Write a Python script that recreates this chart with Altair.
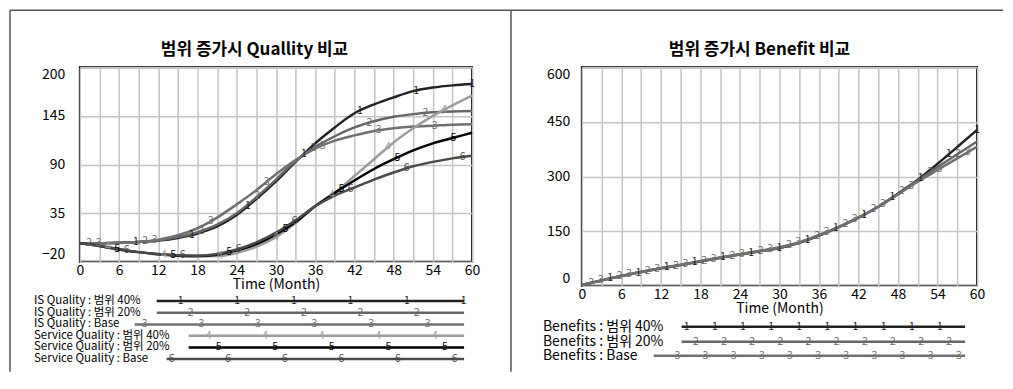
import altair as alt
import numpy as np
import pandas as pd

FONT = "Noto Sans CJK KR"

months = list(range(0, 61, 3))

# Quality chart (every 3 months)
is_q_40 = [1, 1, 1.5, 2.5, 4, 7, 12, 20, 33, 51, 71, 93, 114, 132, 148, 158, 166, 173, 177, 179.5, 181]
is_q_20 = [1, 1, 1.5, 2.5, 4.5, 8, 13.5, 22, 35, 53, 73, 94, 110, 122, 132, 139, 144, 147, 149, 150, 150.5]
is_q_base = [1, 1, 1.5, 2.5, 5, 10, 18, 30, 45, 61, 79, 95, 108, 117, 123, 128, 131, 133, 134, 135, 135.5]
sv_q_40 = [1, -2, -6, -9, -11.5, -13, -14, -13.5, -10, -3, 8, 24, 43, 58, 77, 96, 115, 131, 145, 157, 168]
sv_q_20 = [1, -2, -6, -9, -11.5, -13, -13.5, -12, -7, 0, 11, 25, 43, 58, 72, 85, 96, 106, 114, 120, 126]
sv_q_base = [1, -2, -5.5, -9, -11, -12.5, -13, -11, -6, 2, 13, 27, 43, 55, 64, 73, 81, 88, 93, 97, 100]

# Benefit chart
ben_40 = [2, 15, 27, 38, 48, 57, 67, 77, 86, 95, 104, 118, 138, 161, 187, 217, 253, 291, 335, 381, 428]
ben_20 = [2, 15, 27, 38, 48, 57, 67, 77, 86, 95, 104, 118, 138, 161, 187, 217, 252, 289, 326, 361, 396]
ben_base = [2, 15.5, 27.5, 38.5, 48.5, 58, 68, 78, 87, 96, 106, 120, 140, 162, 188, 217, 251, 286, 318, 350, 382]

q_names = ["IS Quality : 범위 40%", "IS Quality : 범위 20%", "IS Quality : Base",
           "Service Quality : 범위 40%", "Service Quality : 범위 20%", "Service Quality : Base"]
q_series = [is_q_40, is_q_20, is_q_base, sv_q_40, sv_q_20, sv_q_base]
b_names = ["Benefits : 범위 40%", "Benefits : 범위 20%", "Benefits : Base"]
b_series = [ben_40, ben_20, ben_base]

q_yticks = [-20, 35, 90, 145, 200]
b_yticks = [0, 150, 300, 450, 600]

# styles
q_colors = ["#222222", "#666666", "#707070", "#9c9c9c", "#000000", "#4a4a4a"]
q_widths = [2.5, 2.5, 1, 2.5, 2.5, 1]
b_colors = ["#1a1a1a", "#666666", "#8a8a8a"]
b_widths = [2.5, 2.5, 1.2]


def build_panel(names, series, colors, widths, title, W, H, ydom, yticks, ylabpad,
                title_x, marker_step, leg_text_x, leg_rows_y, leg_starts, leg_end,
                leg_mark_first, leg_mark_step, leg_font, borders):
    rows = []
    for nm, vals in zip(names, series):
        for m, v in zip(months, vals):
            rows.append({"month": m, "value": v, "series": nm})
    df = pd.DataFrame(rows)

    # number markers along the curves (label placement)
    mk = []
    for i, (nm, vals) in enumerate(zip(names, series)):
        t = i * 60 / 42
        while t <= 60.01:
            if t > 0.5:
                mk.append({"month": t, "value": float(np.interp(t, months, vals)),
                           "series": nm, "label": str(i + 1)})
            t += marker_step
    dfm = pd.DataFrame(mk)

    cscale = alt.Scale(domain=names, range=colors)
    wscale = alt.Scale(domain=names, range=widths)
    color = alt.Color("series:N", scale=cscale, legend=None)
    swidth = alt.StrokeWidth("series:N", scale=wscale, legend=None)

    xenc = alt.X("month:Q", scale=alt.Scale(domain=[0, 60], nice=False, zero=False),
                 axis=alt.Axis(values=list(range(0, 61, 3)),
                               labelExpr="datum.value % 6 == 0 ? datum.label : ''",
                               title="Time (Month)", labelPadding=2, titlePadding=0,
                               grid=True, labelFlush=False))
    yenc = alt.Y("value:Q", scale=alt.Scale(domain=ydom, nice=False, zero=False),
                 axis=alt.Axis(values=yticks, title=None, labelFlush=True,
                               labelPadding=ylabpad, grid=True))

    lines = alt.Chart(df).mark_line(interpolate="monotone").encode(
        x=xenc, y=yenc, color=color, strokeWidth=swidth)
    marks = alt.Chart(dfm).mark_text(font=FONT, fontSize=10.5, baseline="middle").encode(
        x=xenc, y=yenc, text="label:N", color=color)
    main = alt.layer(lines, marks)

    # legend below the plot
    lt, lr, lm = [], [], []
    for i, nm in enumerate(names):
        y = leg_rows_y[i]
        lt.append({"series": nm, "px": leg_text_x, "py": y})
        lr.append({"series": nm, "px": leg_starts[i], "px2": leg_end, "py": y})
        p = leg_mark_first[i]
        while p <= leg_end + 0.5:
            if p >= leg_starts[i] + 2:
                lm.append({"series": nm, "px": p, "py": y, "label": str(i + 1)})
            p += leg_mark_step
    px = alt.X("px:Q", scale=None, axis=None)
    py = alt.Y("py:Q", scale=None, axis=None)
    leg_rule = alt.Chart(pd.DataFrame(lr)).mark_rule().encode(
        x=px, x2="px2:Q", y=py, color=color, strokeWidth=swidth)
    leg_mk = alt.Chart(pd.DataFrame(lm)).mark_text(font=FONT, fontSize=10.5, baseline="middle").encode(
        x=px, y=py, text="label:N", color=color)
    leg_txt = alt.Chart(pd.DataFrame(lt)).mark_text(
        font=FONT, fontSize=leg_font, align="left", baseline="middle", color="black").encode(
        x=px, y=py, text="series:N")

    one = pd.DataFrame({"k": [0]})
    ttl = alt.Chart(one).mark_text(font=FONT, fontSize=17, fontWeight="bold",
                                   align="center", baseline="middle", color="black",
                                   text=title).encode(x=alt.value(title_x), y=alt.value(-17))
    layers = [main, leg_rule, leg_mk, leg_txt, ttl]
    for b in borders:
        enc = {k: alt.value(v) for k, v in b.items()}
        layers.append(alt.Chart(one).mark_rule(color="#555555", strokeWidth=1.5).encode(**enc))

    return alt.layer(*layers).resolve_scale(x="independent", y="independent").properties(
        width=W, height=H)


left = build_panel(
    q_names, q_series, q_colors, q_widths, "범위 증가시 Quallity 비교",
    393, 195, [-20, 200], q_yticks, 15,
    175, 60 / 7,
    -46, [234.3, 246, 257.7, 269, 280.7, 292.3],
    [77, 77, 55, 109, 109, 87], 385,
    [101, 111, 65, 129, 139, 92], 56.7, 11.5,
    [
        {"x": -70, "x2": 432, "y": -57},
        {"x": -70, "y": -57, "y2": 305},
        {"x": 432, "y": -57, "y2": 305},
    ],
)

right = build_panel(
    b_names, b_series, b_colors, b_widths, "범위 증가시 Benefit 비교",
    396, 219, [0, 600], b_yticks, 12,
    178, 60 / 14,
    -39, [260, 275, 289],
    [100, 100, 72], 384,
    [105, 114.3, 95.7], 28.2, 14,
    [
        {"x": -71, "x2": 422, "y": -57},
    ],
)

chart = alt.hconcat(left, right, spacing=110, bounds="flush").properties(
    padding=0
).configure_view(
    stroke="black", strokeWidth=2
).configure_axis(
    labelFont=FONT, titleFont=FONT, labelFontSize=14, titleFontSize=14,
    titleFontWeight="normal", labelColor="black", titleColor="black",
    domain=False, ticks=False, gridColor="#c4c4c4", gridWidth=1.5,
)

chart.save("out.html", embed_options={"renderer": "svg", "actions": False})
